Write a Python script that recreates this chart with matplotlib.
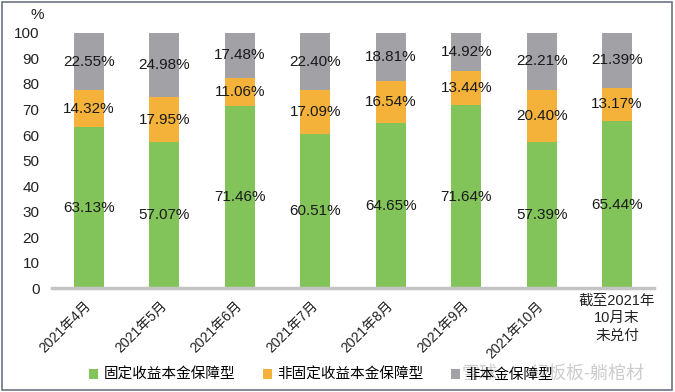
import matplotlib
matplotlib.use('Agg')
import matplotlib.pyplot as plt
from matplotlib.patches import Rectangle
import numpy as np

plt.rcParams['font.family'] = ['Liberation Sans', 'Noto Sans CJK SC', 'DejaVu Sans']

categories = ['2021年4月', '2021年5月', '2021年6月', '2021年7月', '2021年8月',
              '2021年9月', '2021年10月', '截至2021年\n10月末\n未兑付']
fixed = [63.13, 57.07, 71.46, 60.51, 64.65, 71.64, 57.39, 65.44]
non_fixed = [14.32, 17.95, 11.06, 17.09, 16.54, 13.44, 20.40, 13.17]
non_principal = [22.55, 24.98, 17.48, 22.40, 18.81, 14.92, 22.21, 21.39]
series_names = ['固定收益本金保障型', '非固定收益本金保障型', '非本金保障型']
colors = ['#82c45a', '#f4b23a', '#a1a1a6']

fig = plt.figure(figsize=(6.75, 3.92), dpi=100)
ax = fig.add_axes([0.077, 0.265, 0.892, 0.651])

x = np.arange(len(categories))
w = 0.40
bottom = np.zeros(len(categories))
handles = []
for vals, c, name in zip([fixed, non_fixed, non_principal], colors, series_names):
    vals = np.array(vals)
    b = ax.bar(x, vals, w, bottom=bottom, color=c, label=name, zorder=2)
    handles.append(b)
    for xi, bo, v in zip(x, bottom, vals):
        ax.text(xi, bo + v / 2, f'{v:.2f}%', ha='center', va='center',
                fontsize=11, color='#1a1a1a', zorder=3)
    bottom = bottom + vals

ax.set_xlim(-0.49, len(categories) - 0.51)
ax.set_ylim(0, 100)
ax.set_yticks(range(0, 101, 10))
ax.tick_params(axis='y', length=0, pad=9, labelsize=11, labelcolor='#222222')
ax.tick_params(axis='x', length=0)
for s in ['top', 'right', 'left']:
    ax.spines[s].set_visible(False)
ax.spines['bottom'].set_color('#c4c4c4')
ax.spines['bottom'].set_linewidth(2.5)

ax.set_xticks(x)
ax.set_xticklabels([])
for xi, lab in zip(x, categories):
    if '\n' in lab:
        # last category is written flat, in three lines
        ax.text(xi, -2.2, lab, ha='center', va='top', fontsize=10.5,
                linespacing=1.3, color='#222222', clip_on=False)
    else:
        ax.text(xi, -6, lab, ha='right', va='center', rotation=45,
                rotation_mode='anchor', fontsize=10, color='#222222',
                clip_on=False)

fig.text(37 / 675, 1 - 15 / 392, '%', ha='center', va='center', fontsize=11,
         color='#222222')

leg = fig.legend(handles, series_names, loc='center',
                 bbox_to_anchor=(321 / 675, 1 - 375 / 392), ncol=3,
                 frameon=False, fontsize=10.5, handlelength=0.62, handleheight=0.62,
                 handletextpad=0.35, columnspacing=1.9)

# watermark
fig.text(462 / 675, 1 - 374 / 392, '雪球', ha='left', va='center',
         fontsize=13, color='#c4c4c4', alpha=0.85)
fig.text(530 / 675, 1 - 374 / 392, '绿板板-躺棺材', ha='left', va='center',
         fontsize=13, color='#c4c4c4', alpha=0.85)

fig.patches.append(Rectangle((0.003, 0.005), 0.993, 0.99, transform=fig.transFigure,
                             fill=False, ec='#6b7582', lw=1.2))

fig.savefig('out.png', dpi=100)
